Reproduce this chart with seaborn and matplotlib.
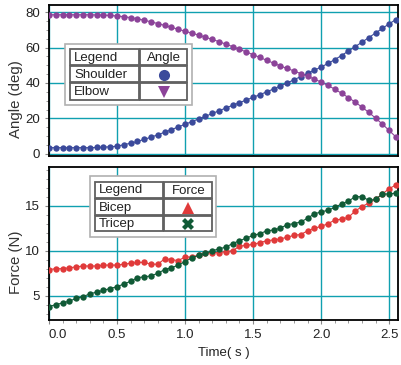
import numpy as np
import pandas as pd
import seaborn as sns
import matplotlib.pyplot as plt
from matplotlib.patches import Rectangle
from matplotlib.ticker import MultipleLocator

# time base (s)
time = np.round(np.arange(52) * 0.05, 2)

shoulder = [3.5, 3.5, 3.5, 3.5, 3.5, 3.5, 3.5, 3.6, 3.8, 4.0, 4.3,
            5.2, 6.0, 7.0, 8.2, 9.4, 10.8, 12.2, 13.7, 15.2, 16.7,
            18.2, 19.7, 21.2, 22.8, 24.3, 25.9, 27.4, 28.9, 30.4, 31.9,
            33.4, 35.0, 36.6, 38.3, 40.0, 41.8, 43.6, 45.4, 47.2, 49.0,
            51.0, 53.2, 55.5, 58.0, 60.5, 63.0, 65.6, 68.2, 70.8, 73.4, 75.8]
elbow = [78.5, 78.5, 78.5, 78.5, 78.5, 78.5, 78.5, 78.4, 78.3, 78.1, 77.8,
         77.4, 76.9, 76.2, 75.4, 74.5, 73.5, 72.5, 71.4, 70.3, 69.2,
         68.1, 67.0, 65.8, 64.6, 63.3, 61.9, 60.5, 59.0, 57.5, 56.0,
         54.4, 52.8, 51.2, 49.6, 48.2, 46.8, 45.3, 43.8, 42.2, 40.5,
         38.6, 36.5, 34.2, 31.8, 29.2, 26.4, 23.4, 20.2, 16.8, 13.2, 9.5]
bicep = [7.9, 8.0, 8.0, 8.1, 8.2, 8.3, 8.3, 8.3, 8.4, 8.4, 8.4,
         8.5, 8.6, 8.7, 8.7, 8.5, 8.5, 9.1, 9.0, 8.9, 9.3,
         9.3, 9.5, 9.7, 9.8, 9.8, 9.9, 10.0, 10.5, 10.6, 10.7,
         10.9, 11.1, 11.2, 11.3, 11.5, 11.7, 11.8, 12.2, 12.5, 12.7,
         13.0, 13.4, 13.5, 13.7, 14.4, 14.9, 15.3, 15.7, 16.3, 16.9, 17.3]
tricep = [3.8, 4.0, 4.2, 4.4, 4.7, 4.9, 5.2, 5.4, 5.6, 5.8, 6.0,
          6.3, 6.6, 7.0, 7.1, 7.2, 7.5, 7.9, 8.1, 8.4, 8.8,
          9.2, 9.5, 9.7, 10.0, 10.2, 10.4, 10.8, 11.1, 11.4, 11.7,
          11.9, 12.2, 12.3, 12.5, 12.9, 13.0, 13.2, 13.6, 14.1, 14.3,
          14.5, 14.8, 15.2, 15.5, 16.0, 16.0, 15.6, 15.7, 16.3, 16.3, 16.4]

angle_names = ["Shoulder", "Elbow"]
force_names = ["Bicep", "Tricep"]
colors = {"Shoulder": "#3b4a9b", "Elbow": "#8c4399",
          "Bicep": "#e03a3a", "Tricep": "#105a36"}
legend_markers = {"Shoulder": "o", "Elbow": "v", "Bicep": "^", "Tricep": "X"}

angles = pd.DataFrame({"Time": time, "Shoulder": shoulder, "Elbow": elbow})
forces = pd.DataFrame({"Time": time, "Bicep": bicep, "Tricep": tricep})

sns.set_style("white")
plt.rcParams["font.family"] = ["Liberation Sans", "DejaVu Sans"]
plt.rcParams["font.size"] = 9

W, H = 402, 365
fig = plt.figure(figsize=(W / 100, H / 100), dpi=100)
ax1 = fig.add_axes([49 / W, 1 - 156 / H, 349 / W, 151 / H])
ax2 = fig.add_axes([49 / W, 1 - 320 / H, 349 / W, 153 / H])

grid_c = "#10a0b0"
for ax, df, names in [(ax1, angles, angle_names), (ax2, forces, force_names)]:
    for n in names:
        sns.lineplot(data=df, x="Time", y=n, ax=ax, color=colors[n],
                     marker="o", markersize=4.6, markeredgewidth=0,
                     linewidth=0.8, zorder=3)
    ax.set_xlim(0, 2.565)
    ax.xaxis.set_major_locator(MultipleLocator(0.5))
    ax.xaxis.set_minor_locator(MultipleLocator(0.1))
    ax.grid(True, which="major", color=grid_c, linewidth=1)
    for s in ax.spines.values():
        s.set_color("black")
        s.set_linewidth(1.3)
    ax.tick_params(which="both", direction="out", color="#888888",
                   left=True, bottom=True, labelsize=9.5, labelcolor="#222222")
    ax.tick_params(which="major", length=3)
    ax.tick_params(which="minor", length=2)

ax1.set_ylim(-1.2, 84)
ax1.yaxis.set_major_locator(MultipleLocator(20))
ax1.yaxis.set_minor_locator(MultipleLocator(5))
ax1.set_xlabel("")
ax1.set_xticklabels([])
ax1.tick_params(axis="x", which="both", length=0)
ax1.set_ylabel("Angle (deg)", fontsize=10.8, color="#333333")

ax2.set_ylim(2.3, 19.3)
ax2.yaxis.set_major_locator(MultipleLocator(5))
ax2.yaxis.set_minor_locator(MultipleLocator(1))
ax2.set_xlabel("Time( s )", fontsize=9.5, color="#222222", labelpad=4)
ax2.set_ylabel("Force (N)", fontsize=10.8, color="#333333")
ax1.yaxis.set_label_coords(-0.075, 0.38)
ax2.yaxis.set_label_coords(-0.075, 0.376)

# the 0.0 label sits right of the left spine
fig.canvas.draw()
for tick in ax2.xaxis.get_major_ticks():
    if abs(tick.get_loc()) < 1e-9:
        tick.label1.set_horizontalalignment("left")


def fx(x):
    return x / W


def fy(y):
    return 1 - y / H


def box(x0, y0, x1, y1, ec, lw, fc="white"):
    fig.patches.append(Rectangle((fx(x0), fy(y1)), fx(x1) - fx(x0), fy(y0) - fy(y1),
                                 transform=fig.transFigure, facecolor=fc,
                                 edgecolor=ec, linewidth=lw, zorder=5))


def table_legend(outer, cols, rows, header, names):
    box(*outer, ec="#b0b0b0", lw=1.2)
    labels = [("Legend", header)] + [(n, None) for n in names]
    for r in range(3):
        for c in range(2):
            box(cols[c], rows[r], cols[c + 1] - 1, rows[r + 1] - 1, ec="#606060", lw=1.3)
        name, head = labels[r]
        ymid = fy((rows[r] + rows[r + 1]) / 2)
        fig.text(fx(cols[0] + 4), ymid, name, ha="left", va="center",
                 fontsize=9.5, color="#222222", zorder=6)
        xmid = fx((cols[1] + cols[2]) / 2)
        if head is not None:
            fig.text(xmid, ymid, head, ha="center", va="center",
                     fontsize=9.5, color="#222222", zorder=6)
        else:
            fig.add_artist(plt.Line2D([xmid], [ymid], marker=legend_markers[name],
                                      markersize=8, color=colors[name],
                                      markeredgewidth=0, linestyle="none",
                                      transform=fig.transFigure, zorder=6))


table_legend((65, 44, 192, 105), (70, 140, 188), (49, 66, 83, 101), "Angle", angle_names)
table_legend((90, 176, 216, 237), (95, 164, 213), (182, 199, 216, 232), "Force", force_names)

fig.savefig("out.png", dpi=100)
